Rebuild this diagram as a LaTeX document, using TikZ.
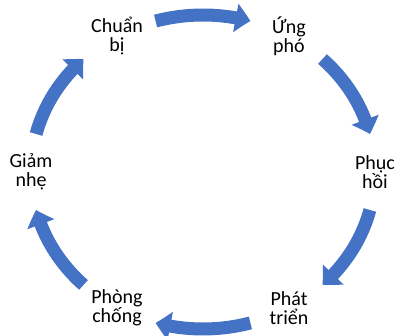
\documentclass[tikz,border=0pt]{standalone}
\usepackage{fontspec}
\setmainfont{Carlito}
\usetikzlibrary{arrows.meta,bending}
\definecolor{cycblue}{HTML}{4472C4}

\begin{document}
\begin{tikzpicture}[x=1pt,y=1pt,
  lbl/.style={align=center,font=\fontsize{20}{19}\selectfont},
  cyc/.style={line width=13pt,cycblue,-{Triangle[length=15pt,width=28pt,bend]}}]
\useasboundingbox (0,0) rectangle (399,336);
\coordinate (c) at (203,164);
\node[lbl] (n0) at ([shift={(c)}]120:172 and 157) {Chuẩn\\bị};
\node[lbl] (n1) at ([shift={(c)}]60:172 and 157) {Ứng\\phó};
\node[lbl] (n2) at ([shift={(c)}]0:172 and 157) {Phục\\hồi};
\node[lbl] (n3) at ([shift={(c)}]-60:172 and 157) {Phát\\triển};
\node[lbl] (n4) at ([shift={(c)}]-120:172 and 157) {Phòng\\chống};
\node[lbl] (n5) at ([shift={(c)}]180:172 and 157) {Giảm\\nhẹ};
% arcs, clockwise
\draw[cyc] ([shift={(c)}]106:172 and 157) arc[start angle=106,end angle=74,x radius=172,y radius=157];
\draw[cyc] ([shift={(c)}]46:172 and 157) arc[start angle=46,end angle=14,x radius=172,y radius=157];
\draw[cyc] ([shift={(c)}]-14:172 and 157) arc[start angle=-14,end angle=-46,x radius=172,y radius=157];
\draw[cyc] ([shift={(c)}]-74:172 and 157) arc[start angle=-74,end angle=-106,x radius=172,y radius=157];
\draw[cyc] ([shift={(c)}]-134:172 and 157) arc[start angle=-134,end angle=-166,x radius=172,y radius=157];
\draw[cyc] ([shift={(c)}]166:172 and 157) arc[start angle=166,end angle=134,x radius=172,y radius=157];
\end{tikzpicture}
\end{document}
